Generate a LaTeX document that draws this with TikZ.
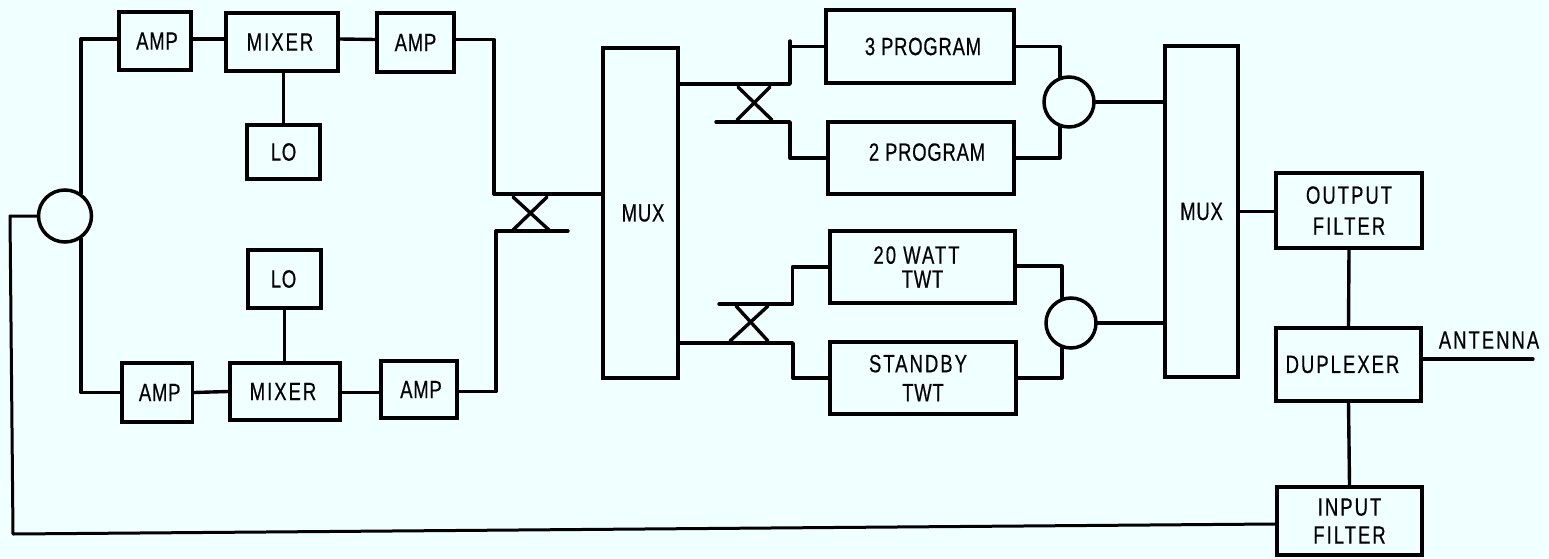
\documentclass[tikz,border=0pt]{standalone}
\usepackage{fontspec}
\setmainfont[FakeStretch=0.74,LetterSpace=3,FakeBold=0.4]{Liberation Sans}
\usetikzlibrary{shapes.geometric}
\definecolor{paper}{HTML}{F0FFFF}
\newcommand{\dn}[1]{\rule[-#1pt]{0pt}{1pt}}
\newcommand{\wide}{\addfontfeature{LetterSpace=8}}
\tikzset{
  blk/.style={draw=black,fill=none,line width=3.5pt,rectangle,inner sep=0pt,align=center,
    font=\fontsize{25}{29}\selectfont},
  bw/.style 2 args={minimum width=#1 pt,minimum height=#2 pt},
  junction/.style={draw=black,line width=3.5pt,ellipse,inner sep=0pt},
  wire/.style={draw=black,line width=3.4pt,line join=round,line cap=round},
  thinwire/.style={draw=black,line width=3pt,line join=round,line cap=round}
}
\begin{document}
\begin{tikzpicture}[x=1pt,y=-1pt]
\useasboundingbox (0,0) rectangle (1549,559);
\fill[paper] (0,0) rectangle (1549,559);
% boxes
\node[blk,bw={72}{58}] (amp1) at (155,41) {\hspace*{4pt}AMP};
\node[blk,bw={112}{58}] (mix1) at (282,42) {\wide MIXER\hspace*{4pt}};
\node[blk,bw={77}{59}] (amp2) at (415.5,42.5) {AMP};
\node[blk,bw={73}{54}] (lo1) at (283.5,152) {LO};
\node[blk,bw={73}{58}] (lo2) at (284.5,279) {LO\hspace*{2pt}};
\node[blk,bw={70.5}{59}] (amp3) at (157.2,392.5) {\hspace*{5pt}AMP};
\node[blk,bw={110}{57}] (mix2) at (285,391.5) {\wide MIXER\hspace*{4pt}};
\node[blk,bw={76}{57}] (amp4) at (419,389.5) {\hspace*{4pt}AMP};
\node[blk,bw={75}{330}] (mux1) at (640.5,213) {\hspace*{5pt}MUX};
\node[blk,bw={188}{73}] (p3) at (920,46.5) {\hspace*{6pt}3 PROGRAM};
\node[blk,bw={186}{72}] (p2) at (921,158) {\hspace*{12pt}2 PROGRAM\dn{12}};
\node[blk,bw={185}{72}] (w20) at (922.5,267) {\wide 20 WATT\hspace*{12pt}\\[-5pt]TWT};
\node[blk,bw={186}{72}] (stby) at (923,378) {\wide STANDBY\hspace*{10pt}\\[0pt]TWT};
\node[blk,bw={73}{331}] (mux2) at (1201.5,211.5) {MUX};
\node[blk,bw={146}{75}] (ofl) at (1349,210.5) {\wide OUTPUT\\[2pt]\wide FILTER};
\node[blk,bw={145}{73}] (dup) at (1348.5,364.5) {\wide DUPLEXER\hspace*{12pt}};
\node[blk,bw={145}{68}] (ifl) at (1349.5,521) {\wide INPUT\\[-1pt]\wide FILTER};
\node[font=\fontsize{25}{29}\selectfont\wide,inner sep=0pt] (ant) at (1489,340) {ANTENNA};
% junctions
\node[junction,minimum width=53pt,minimum height=52pt] (cl) at (65,216) {};
\node[junction,minimum width=50pt,minimum height=50pt] (cu) at (1069,102) {};
\node[junction,minimum width=50pt,minimum height=50pt] (cd) at (1071,323) {};
% free ends
\coordinate (fb1) at (10,216);
\coordinate (fb2) at (13,534);
\coordinate (r1) at (494,194);
\coordinate (r2) at (496,231);
\coordinate (r2e) at (568,231);
\coordinate (a1) at (790,84);
\coordinate (a1t) at (790,41);
\coordinate (a2) at (716,122);
\coordinate (a3) at (790,122);
\coordinate (b1) at (793,343);
\coordinate (b2) at (719,304);
\coordinate (b3) at (792.5,304);
\coordinate (ae) at (1533,359);
\coordinate (x1a) at (513,197); \coordinate (x1b) at (549,230);
\coordinate (x1c) at (547,197); \coordinate (x1d) at (513,230);
\coordinate (x2a) at (738,87);  \coordinate (x2b) at (772,120);
\coordinate (x2c) at (770,87);  \coordinate (x2d) at (737,120);
\coordinate (x3a) at (736,306); \coordinate (x3b) at (768,341);
\coordinate (x3c) at (768,306); \coordinate (x3d) at (730,341);
% upper receive chain
\draw[wire] (cl.55) |- ([yshift=2pt]amp1.west);
\draw[wire] ([yshift=2pt]amp1.east) -- ([yshift=3pt]mix1.west);
\draw[wire] ([yshift=3pt]mix1.east) -- ([yshift=3pt]amp2.west);
\draw[wire] (mix1.south -| lo1.north) -- (lo1.north);
\draw[wire] ([yshift=3pt]amp2.east) -| (r1);
\draw[wire] (r1) -- (r1 -| mux1.west);
% lower receive chain
\draw[wire] (cl.-55) |- (amp3.west);
\draw[wire] (amp3.east) -- (mix2.west);
\draw[wire] ([yshift=-1pt]mix2.east) -- ([yshift=-1pt]mix2.east -| amp4.west);
\draw[wire] ([yshift=-2pt]amp4.east) -| (r2);
\draw[wire] (r2) -- (r2e);
\draw[wire] (lo2.south) -- (lo2.south |- mix2.north);
% crossovers
\draw[wire] (x1a) -- (x1b);
\draw[wire] (x1c) -- (x1d);
\draw[wire] (x2a) -- (x2b);
\draw[wire] (x2c) -- (x2d);
\draw[wire] (x3a) -- (x3b);
\draw[wire] (x3c) -- (x3d);
% mux 1 to program amplifiers
\draw[wire] (a1 -| mux1.east) -- (a1) -- (a1t);
\draw[wire] (a1 |- p3.west) -- (p3.west);
\draw[wire] (a2) -- (a3) |- (p2.west);
\draw[wire] (b2) -- (b3) |- (w20.west);
\draw[wire] (b1 -| mux1.east) -- (b1) |- (stby.west);
% amplifiers to combiners
\draw[wire] (p3.east) -| (cu.110);
\draw[wire] (p2.east) -| (cu.-110);
\draw[wire] ([yshift=1pt]w20.east) -| (cd.110);
\draw[wire] (stby.east) -| (cd.-110);
\draw[wire] (cu.east) -- (cu.east -| mux2.west);
\draw[wire] (cd.east) -- (cd.east -| mux2.west);
% output side
\draw[wire] (mux2.east) -- (mux2.east -| ofl.west);
\draw[wire] (ofl.south) -- (dup.north);
\draw[wire] (dup.south) -- (ifl.north);
\draw[wire] (dup.east |- ae) -- (ae);
\draw[thinwire] ([yshift=-3pt]ifl.west) -- (fb2) -- (fb1) -- (cl.west);
\end{tikzpicture}
\end{document}
